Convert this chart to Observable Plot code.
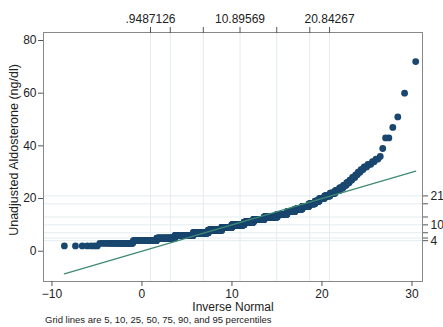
<!DOCTYPE html>
<html><head><meta charset="utf-8">
<script src="https://cdn.jsdelivr.net/npm/d3@7"></script>
<script src="https://cdn.jsdelivr.net/npm/@observablehq/plot@0.6"></script>
<style>
body{margin:0;background:#fff;font-family:"Liberation Sans",Arial,sans-serif}
#wrap{position:relative;width:443px;height:327px;overflow:hidden}
#cap{position:absolute;left:45px;top:314px;font-size:9.5px;line-height:11px;color:#222;white-space:nowrap}
</style></head>
<body><div id="wrap"></div>
<script>
// Aldosterone values (ng/dl) and how many observations have each value
const values = [2,3,4,5,6,7,8,9,10,11,12,13,14,15,16,17,18,19,20,21,22,23,24,25,26,27,28,29,30,31,32,33,34,35,36,39,43,47,51,60,72];
const counts = [7,32,61,86,126,136,141,115,144,107,120,130,85,60,48,38,30,18,20,18,14,10,8,6,5,4,4,3,3,3,3,3,2,2,1,1,2,1,1,1,1];
// top axis: percentiles of the fitted normal (5,10,25,50,75,90,95)
const topTickValues = [0.9487126, 3.146, 6.817, 10.89569, 14.974, 18.645, 20.84267];
const topTickLabels = [".9487126", "", "", "10.89569", "", "", "20.84267"];
// right axis: percentiles of the data
const rightTickValues = [4, 5, 7, 10, 13, 18, 21];
const rightTickLabels = ["4", "", "", "10", "", "", "21"];
const xTicks = [-10, 0, 10, 20, 30];
const yTicks = [0, 20, 40, 60, 80];

function invNorm(p){
  const a=[-3.969683028665376e+01,2.209460984245205e+02,-2.759285104469687e+02,1.383577518672690e+02,-3.066479806614716e+01,2.506628277459239e+00];
  const b=[-5.447609879822406e+01,1.615858368580409e+02,-1.556989798598866e+02,6.680131188771972e+01,-1.328068155288572e+01];
  const c=[-7.784894002430293e-03,-3.223964580411365e-01,-2.400758277161838e+00,-2.549732539343734e+00,4.374664141464968e+00,2.938163982698783e+00];
  const d=[7.784695709041462e-03,3.224671290700398e-01,2.445134137142996e+00,3.754408661907416e+00];
  const pl=0.02425, ph=1-pl; let q,r;
  if(p<pl){q=Math.sqrt(-2*Math.log(p));return (((((c[0]*q+c[1])*q+c[2])*q+c[3])*q+c[4])*q+c[5])/((((d[0]*q+d[1])*q+d[2])*q+d[3])*q+1);}
  if(p<=ph){q=p-0.5;r=q*q;return (((((a[0]*r+a[1])*r+a[2])*r+a[3])*r+a[4])*r+a[5])*q/(((((b[0]*r+b[1])*r+b[2])*r+b[3])*r+b[4])*r+1);}
  q=Math.sqrt(-2*Math.log(1-p));return -(((((c[0]*q+c[1])*q+c[2])*q+c[3])*q+c[4])*q+c[5])/((((d[0]*q+d[1])*q+d[2])*q+d[3])*q+1);
}

// qnorm: sorted data vs inverse normal of rank i/(N+1)
const mean = topTickValues[3];
const sd = (topTickValues[6] - mean) / 1.6448536;
const N = d3.sum(counts);
const points = [];
let rank = 0;
values.forEach((v, j) => {
  for (let k = 0; k < counts[j]; k++) {
    rank++;
    points.push({x: mean + sd * invNorm(rank / (N + 1)), y: v});
  }
});
const xr = d3.extent(points, d => d.x);
const refLine = [{x: xr[0], y: xr[0]}, {x: xr[1], y: xr[1]}];

const topMap = new Map(topTickValues.map((v, i) => [v, topTickLabels[i]]));
const rightMap = new Map(rightTickValues.map((v, i) => [v, rightTickLabels[i]]));
const grid = "#e3ecef";

const chart = Plot.plot({
  width: 443, height: 314,
  marginLeft: 43, marginRight: 21, marginTop: 32, marginBottom: 33,
  style: {fontFamily: '"Liberation Sans", Arial, sans-serif', fontSize: "12px", color: "#222", background: "#fff", overflow: "visible"},
  x: {domain: [-10.94, 31.17]},
  y: {domain: [-11.5, 83.04]},
  marks: [
    Plot.ruleX(topTickValues, {stroke: grid, strokeWidth: 1}),
    Plot.ruleY(rightTickValues, {stroke: grid, strokeWidth: 1}),
    Plot.dot(points, {x: "x", y: "y", r: 3.4, fill: "#1a476f", stroke: "none"}),
    Plot.line(refLine, {x: "x", y: "y", stroke: "#3f8a72", strokeWidth: 1.3}),
    Plot.frame({stroke: "#888"}),
    Plot.axisX(xTicks, {anchor: "bottom", tickSize: 5, tickPadding: 3, label: null, stroke: "#555"}),
    Plot.axisY(yTicks, {anchor: "left", tickSize: 5, tickPadding: 2, label: null, stroke: "#555"}),
    Plot.axisX(topTickValues, {anchor: "top", tickSize: 6, tickPadding: 4, tickFormat: d => topMap.get(d), label: null, stroke: "#555"}),
    Plot.axisY(rightTickValues, {anchor: "right", tickSize: 5, tickPadding: 3, tickFormat: d => rightMap.get(d), label: null, stroke: "#555"}),
    Plot.text(["Inverse Normal"], {text: d => d, frameAnchor: "bottom", lineAnchor: "middle", textAnchor: "middle", dy: 26, fontSize: 12, fill: "#222"}),
    Plot.text(["Unadjusted Aldosterone (ng/dl)"], {text: d => d, frameAnchor: "left", textAnchor: "middle", lineAnchor: "middle", dx: -30, dy: -7, rotate: -90, fontSize: 12.5, fill: "#222"})
  ]
});
const wrap = document.getElementById("wrap");
wrap.appendChild(chart);
const cap = document.createElement("div");
cap.id = "cap";
cap.textContent = "Grid lines are 5, 10, 25, 50, 75, 90, and 95 percentiles";
wrap.appendChild(cap);
</script></body></html>
